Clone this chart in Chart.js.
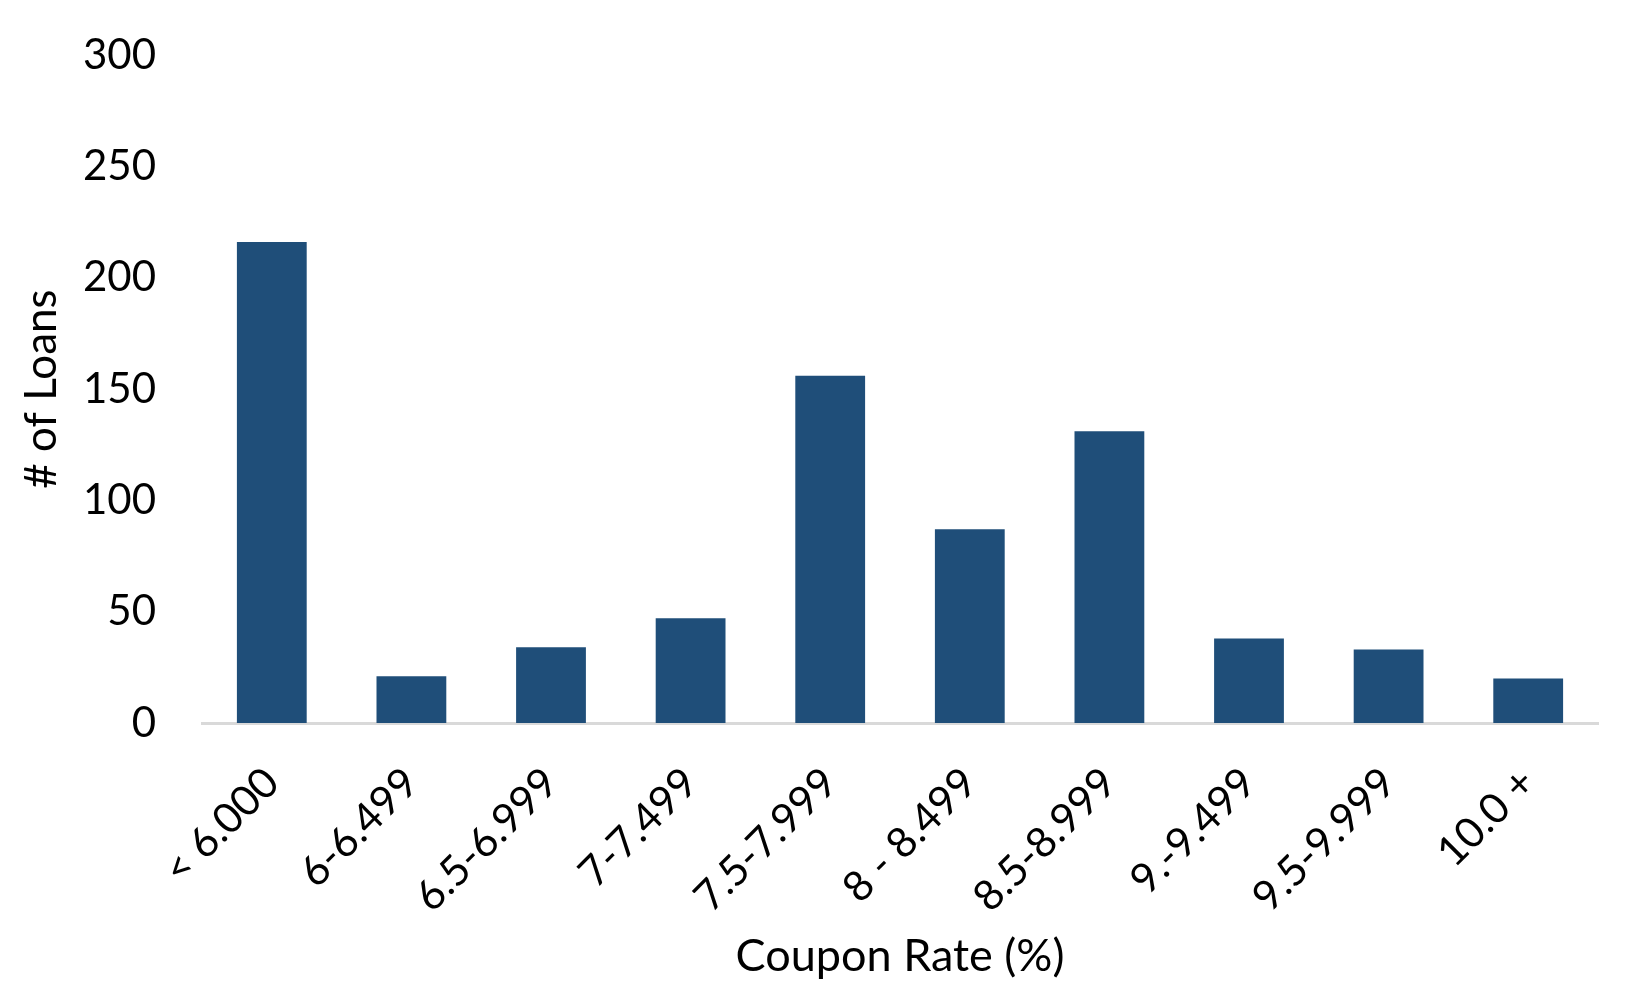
<!DOCTYPE html>
<html>
<head>
<meta charset="utf-8">
<script src="https://cdn.jsdelivr.net/npm/chart.js@4"></script>
<style>
  html, body { margin: 0; padding: 0; background: #ffffff; }
  #wrap { width: 1650px; height: 990px; position: relative; }
</style>
</head>
<body>
<div id="wrap"><canvas id="c" width="1650" height="990"></canvas></div>
<script>
const categories = ["< 6.000", "6-6.499", "6.5-6.999", "7-7.499", "7.5-7.999", "8 - 8.499", "8.5-8.999", "9.-9.499", "9.5-9.999", "10.0 +"];
const loanCounts = [216, 21, 34, 47, 156, 87, 131, 38, 33, 20];
const yTicks = [0, 50, 100, 150, 200, 250, 300];
const xTitle = "Coupon Rate (%)";
const yTitle = "# of Loans";

const FONT = "Lato, 'Open Sans', sans-serif";

new Chart(document.getElementById('c'), {
  type: 'bar',
  data: {
    labels: categories,
    datasets: [{
      data: loanCounts,
      backgroundColor: '#1F4E79',
      borderWidth: 0,
      categoryPercentage: 1.0,
      barPercentage: 0.5
    }]
  },
  options: {
    responsive: false,
    animation: false,
    devicePixelRatio: 1,
    layout: { padding: { left: 0, right: 52, top: 55, bottom: 0 } },
    plugins: { legend: { display: false }, tooltip: { enabled: false } },
    scales: {
      x: {
        grid: { display: false, drawTicks: false },
        border: { display: true, color: '#D9D9D9', width: 3 },
        ticks: {
          color: '#000000',
          font: { family: FONT, size: 42 },
          minRotation: 45,
          maxRotation: 45,
          padding: 35,
          autoSkip: false
        },
        title: {
          display: true,
          text: xTitle,
          color: '#000000',
          font: { family: FONT, size: 45 },
          padding: { top: 0, bottom: 7 }
        },
        afterFit: (s) => { s.height = 267; s.paddingLeft = 0; s.paddingRight = 0; }
      },
      y: {
        min: 0,
        max: 300,
        afterBuildTicks: (s) => { s.ticks = yTicks.map(v => ({ value: v })); },
        grid: { display: false, drawTicks: false },
        border: { display: false },
        ticks: {
          color: '#000000',
          font: { family: FONT, size: 42 },
          padding: 46
        },
        title: {
          display: true,
          text: yTitle,
          color: '#000000',
          font: { family: FONT, size: 44 },
          padding: { top: 15, bottom: 0 }
        },
        afterFit: (s) => { s.width = 202; s.paddingTop = 0; s.paddingBottom = 0; }
      }
    }
  }
});
</script>
</body>
</html>
